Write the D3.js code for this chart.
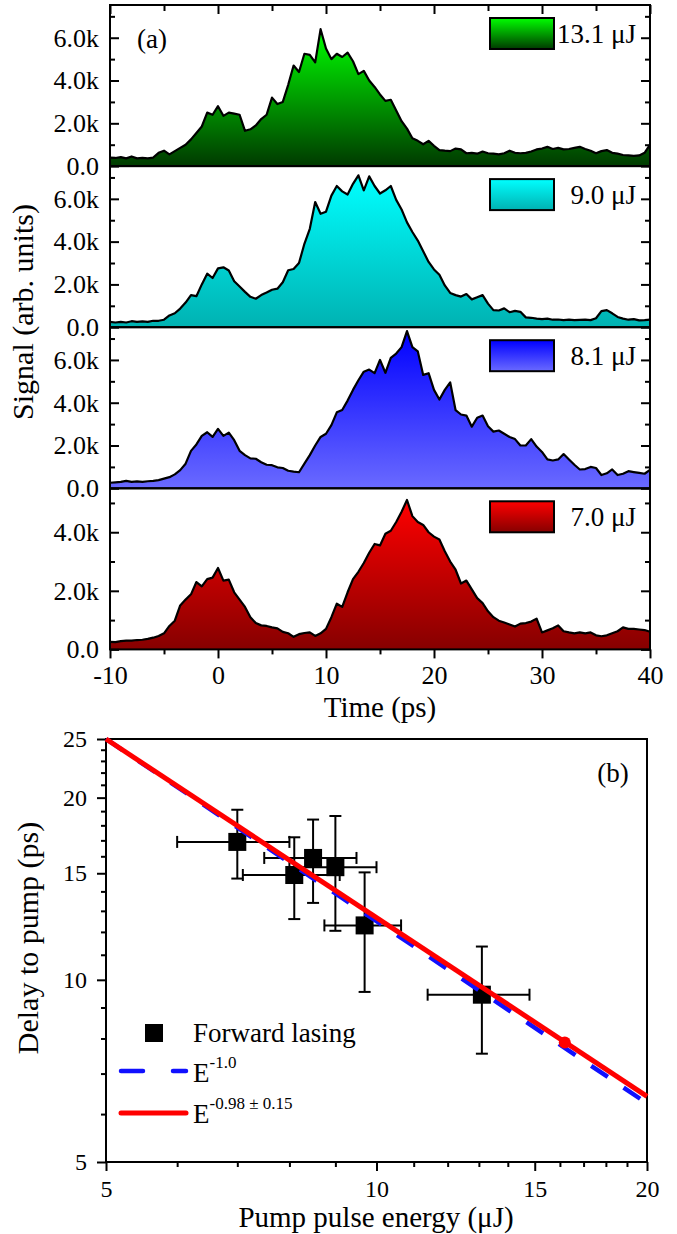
<!DOCTYPE html>
<html>
<head>
<meta charset="utf-8">
<script src="https://cdn.jsdelivr.net/npm/d3@7"></script>
<style>
  body { margin: 0; background: #fff; }
  svg { display: block; font-family: "Liberation Serif", "Times New Roman", serif; }
</style>
</head>
<body>
<svg id="chart" width="677" height="1234"></svg>
<script>
// ---- panel (a): signal traces, kilo counts, sampled every 0.5 ps from -10 to 40 ps
var times = d3.range(-10, 40.25, 0.5);

var sig131 = [
  0.40,0.38,0.42,0.36,0.45,0.36,0.38,0.36,0.40,0.62,
  0.72,0.55,0.70,0.85,1.00,1.25,1.55,1.85,2.50,2.40,
  2.80,2.35,2.50,2.45,2.40,1.65,1.72,1.90,2.20,2.40,
  3.20,2.90,3.00,3.80,4.70,4.40,5.25,5.20,4.85,6.40,
  5.50,5.00,5.25,5.10,5.30,4.90,4.30,4.45,4.00,3.70,
  3.35,3.05,3.10,2.60,2.10,1.75,1.30,1.18,1.02,1.18,
  0.95,0.75,0.72,0.70,0.82,0.78,0.60,0.62,0.58,0.68,
  0.60,0.58,0.55,0.60,0.72,0.62,0.60,0.62,0.68,0.78,
  0.82,0.90,0.80,0.85,0.78,0.80,0.85,0.90,0.80,0.72,
  0.60,0.70,0.75,0.62,0.58,0.52,0.50,0.48,0.50,0.62,
  1.00];
var sig90 = [
  0.25,0.22,0.25,0.22,0.28,0.25,0.27,0.25,0.30,0.30,
  0.35,0.55,0.65,0.87,1.15,1.50,1.45,2.00,2.50,2.30,
  2.75,2.80,2.65,2.15,1.90,1.65,1.42,1.33,1.50,1.62,
  1.75,1.80,2.10,2.66,2.72,3.00,3.90,4.60,5.85,5.30,
  5.40,6.15,6.60,6.35,6.20,6.70,7.10,6.40,7.05,6.60,
  6.25,6.40,6.60,5.95,5.50,4.90,4.45,4.05,3.55,3.05,
  2.70,2.45,1.95,1.60,1.50,1.43,1.55,1.30,1.40,1.50,
  1.10,0.80,0.78,0.88,0.70,0.76,0.72,0.46,0.44,0.40,
  0.38,0.40,0.35,0.36,0.33,0.35,0.33,0.34,0.35,0.33,
  0.42,0.75,0.80,0.65,0.48,0.40,0.35,0.38,0.32,0.33,
  0.35];
var sig81 = [
  0.26,0.28,0.30,0.35,0.30,0.32,0.30,0.33,0.35,0.38,
  0.45,0.52,0.65,0.85,1.15,1.75,2.05,2.45,2.62,2.40,
  2.78,2.45,2.60,2.25,1.75,1.55,1.40,1.38,1.22,1.10,
  1.08,0.98,0.95,0.82,0.78,0.75,1.15,1.55,2.00,2.40,
  2.55,2.95,3.55,3.66,4.10,4.60,5.05,5.45,5.55,5.38,
  6.00,5.40,6.10,6.30,6.60,7.35,6.60,6.40,5.30,5.38,
  4.60,4.15,4.60,4.95,3.65,3.45,3.40,2.88,3.30,3.40,
  2.90,2.65,2.70,2.55,2.40,2.30,2.00,2.00,2.30,1.95,
  1.70,1.35,1.30,1.35,1.60,1.35,1.10,0.88,0.90,1.00,
  0.95,0.62,0.70,0.88,0.62,0.68,0.80,0.76,0.72,0.68,
  0.86];
var sig70 = [
  0.26,0.25,0.28,0.30,0.30,0.32,0.33,0.36,0.40,0.46,
  0.55,0.80,0.98,1.50,1.70,1.88,2.30,2.15,2.40,2.45,
  2.78,2.35,2.38,1.95,1.70,1.45,1.10,0.90,0.82,0.80,
  0.75,0.72,0.60,0.55,0.43,0.52,0.56,0.58,0.46,0.55,
  0.70,1.10,1.56,1.45,1.95,2.40,2.65,2.95,3.30,3.60,
  3.55,3.95,4.05,4.35,4.70,5.10,4.55,4.35,4.25,4.00,
  3.85,3.75,3.35,3.00,2.72,2.25,2.35,2.05,1.75,1.58,
  1.30,1.10,0.98,0.92,0.85,0.78,0.88,0.90,0.95,1.05,
  0.58,0.65,0.72,0.82,0.62,0.58,0.55,0.58,0.55,0.58,
  0.48,0.45,0.48,0.55,0.62,0.75,0.70,0.70,0.68,0.66,
  0.60];

var traces = [sig131, sig90, sig81, sig70];
var traceLabels = ['13.1 \u03bcJ', '9.0 \u03bcJ', '8.1 \u03bcJ', '7.0 \u03bcJ'];
var traceMax = [7.53, 7.53, 7.53, 5.5];
var yMajor = [0, 2, 4, 6];
var yMinor = [1, 3, 5, 7];
var tMajor = [-10, 0, 10, 20, 30, 40];
var tMinor = [-5, 5, 15, 25, 35];

// ---- panel (b): delay vs pump energy
var energy   = [7.0, 8.1, 8.5, 9.0, 9.7, 13.1];
var energyErr = [1.0, 1.0, 1.0, 1.0, 0.95, 1.7];
var delay    = [16.9, 14.9, 15.9, 15.35, 12.3, 9.45];
var delayErr = [2.2, 2.3, 2.5, 3.3, 2.75, 1.9];
var fitE     = [5, 20];
var fitRed   = [25, 6.42];   // E^-0.98
var fitBlue  = [25, 6.25];   // E^-1.0
var fitDot   = [16.2, 7.88];
var eMajor = [5, 10, 15, 20];
var eMinor = [6, 7, 8, 9, 11, 12, 13, 14, 16, 17, 18, 19];
var dMajor = [5, 10, 15, 20, 25];
var dMinor = [6, 7, 8, 9, 11, 12, 13, 14, 16, 17, 18, 19, 21, 22, 23, 24];

var svg = d3.select('#chart');
var defs = svg.append('defs');
var gradColors = [['#00ff00', '#003a00'], ['#00ffff', '#00b2b2'], ['#0000ff', '#6a6aff'], ['#ff0000', '#860000']];

gradColors.forEach(function(c, i) {
  var lg = defs.append('linearGradient').attr('id', 'grad' + i)
    .attr('x1', 0).attr('y1', 0).attr('x2', 0).attr('y2', 1);
  lg.append('stop').attr('offset', '0%').attr('stop-color', c[0]);
  lg.append('stop').attr('offset', '100%').attr('stop-color', c[1]);
});

function styleAxis(g, size) {
  g.attr('font-family', null).attr('font-size', size);
  g.select('.domain').remove();
  g.selectAll('.tick line').attr('stroke', '#000').attr('stroke-width', 2);
  g.selectAll('.tick text').attr('fill', '#000');
}
// plain hyphen for negatives, as in the original figure
var plain = function(v) { return String(v); };

var x = d3.scaleLinear().domain([-10, 40]).range([110, 650]);
var panelH = 161.1;

traces.forEach(function(vals, i) {
  var top = 5 + i * panelH, bottom = top + panelH;
  var y = d3.scaleLinear().domain([0, traceMax[i]]).range([bottom, top]);
  var g = svg.append('g');

  g.append('path').datum(vals)
    .attr('d', d3.area().x(function(d, j) { return x(times[j]); }).y0(y(0)).y1(function(d) { return y(d); }))
    .attr('fill', 'url(#grad' + i + ')');
  g.append('path').datum(vals)
    .attr('d', d3.line().x(function(d, j) { return x(times[j]); }).y(function(d) { return y(d); }))
    .attr('fill', 'none').attr('stroke', '#000').attr('stroke-width', 2.2).attr('stroke-linejoin', 'round');

  var maj = yMajor.filter(function(v) { return v <= traceMax[i]; });
  var mnr = yMinor.filter(function(v) { return v <= traceMax[i]; });

  g.append('g').attr('transform', 'translate(110,0)')
    .call(d3.axisLeft(y).tickValues(maj).tickSize(-9).tickPadding(11)
      .tickFormat(function(v) { return v === 0 ? '0.0' : v + '.0k'; }))
    .call(styleAxis, 26);
  g.append('g').attr('transform', 'translate(110,0)')
    .call(d3.axisLeft(y).tickValues(mnr).tickSize(-5).tickFormat(''))
    .call(styleAxis, 26);
  g.append('g').attr('transform', 'translate(650,0)')
    .call(d3.axisRight(y).tickValues(maj).tickSize(-9).tickFormat(''))
    .call(styleAxis, 26);
  g.append('g').attr('transform', 'translate(650,0)')
    .call(d3.axisRight(y).tickValues(mnr).tickSize(-5).tickFormat(''))
    .call(styleAxis, 26);

  if (i === 0) {
    g.append('g').attr('transform', 'translate(0,' + top + ')')
      .call(d3.axisTop(x).tickValues(tMajor).tickSize(-9).tickFormat(''))
      .call(styleAxis, 26);
    g.append('g').attr('transform', 'translate(0,' + top + ')')
      .call(d3.axisTop(x).tickValues(tMinor).tickSize(-6).tickFormat(''))
      .call(styleAxis, 26);
    g.append('text').attr('x', 137).attr('y', 48).attr('font-size', 27).text('(a)');
  }
  if (i === traces.length - 1) {
    g.append('g').attr('transform', 'translate(0,' + bottom + ')')
      .call(d3.axisBottom(x).tickValues(tMajor).tickSize(9).tickPadding(7).tickFormat(plain))
      .call(styleAxis, 26);
    g.append('g').attr('transform', 'translate(0,' + bottom + ')')
      .call(d3.axisBottom(x).tickValues(tMinor).tickSize(5).tickFormat(''))
      .call(styleAxis, 26);
  }

  g.append('rect').attr('x', 110).attr('y', top).attr('width', 540).attr('height', panelH)
    .attr('fill', 'none').attr('stroke', '#000').attr('stroke-width', 2);

  // legend
  g.append('rect').attr('x', 490).attr('y', top + 13).attr('width', 64).attr('height', 31)
    .attr('fill', 'url(#grad' + i + ')').attr('stroke', '#000').attr('stroke-width', 2);
  g.append('text').attr('x', 636).attr('y', top + 38).attr('text-anchor', 'end')
    .attr('font-size', 27).text(traceLabels[i]);
});

svg.append('text').attr('x', 380).attr('y', 717).attr('text-anchor', 'middle')
  .attr('font-size', 29).text('Time (ps)');
svg.append('text').attr('transform', 'translate(33,312) rotate(-90)').attr('text-anchor', 'middle')
  .attr('font-size', 30).text('Signal (arb. units)');

// ---- panel (b)
var ex = d3.scaleLog().domain([5, 20]).range([106, 647]);
var dy = d3.scaleLog().domain([5, 25]).range([1162, 739]);
var gb = svg.append('g');

gb.append('g').attr('transform', 'translate(0,1162)')
  .call(d3.axisBottom(ex).tickValues(eMajor).tickSize(9).tickPadding(9).tickFormat(plain))
  .call(styleAxis, 24);
gb.append('g').attr('transform', 'translate(0,1162)')
  .call(d3.axisBottom(ex).tickValues(eMinor).tickSize(5).tickFormat(''))
  .call(styleAxis, 24);
gb.append('g').attr('transform', 'translate(106,0)')
  .call(d3.axisLeft(dy).tickValues(dMajor).tickSize(9).tickPadding(10).tickFormat(plain))
  .call(styleAxis, 24);
gb.append('g').attr('transform', 'translate(106,0)')
  .call(d3.axisLeft(dy).tickValues(dMinor).tickSize(5).tickFormat(''))
  .call(styleAxis, 24);

gb.append('rect').attr('x', 106).attr('y', 739).attr('width', 541).attr('height', 423)
  .attr('fill', 'none').attr('stroke', '#000').attr('stroke-width', 2);

var pts = energy.map(function(e, i) {
  return { e: e, d: delay[i], ee: energyErr[i], de: delayErr[i] };
});
var eb = gb.append('g').attr('stroke', '#000').attr('stroke-width', 2);
pts.forEach(function(p) {
  var cx = ex(p.e), cy = dy(p.d);
  var x0 = ex(p.e - p.ee), x1 = ex(p.e + p.ee);
  var y0 = dy(p.d - p.de), y1 = dy(p.d + p.de);
  eb.append('line').attr('x1', x0).attr('x2', x1).attr('y1', cy).attr('y2', cy);
  eb.append('line').attr('x1', x0).attr('x2', x0).attr('y1', cy - 6).attr('y2', cy + 6);
  eb.append('line').attr('x1', x1).attr('x2', x1).attr('y1', cy - 6).attr('y2', cy + 6);
  eb.append('line').attr('x1', cx).attr('x2', cx).attr('y1', y0).attr('y2', y1);
  eb.append('line').attr('x1', cx - 6).attr('x2', cx + 6).attr('y1', y0).attr('y2', y0);
  eb.append('line').attr('x1', cx - 6).attr('x2', cx + 6).attr('y1', y1).attr('y2', y1);
});
gb.selectAll('rect.pt').data(pts).enter().append('rect').attr('class', 'pt')
  .attr('x', function(p) { return ex(p.e) - 9; })
  .attr('y', function(p) { return dy(p.d) - 9; })
  .attr('width', 18).attr('height', 18).attr('fill', '#000');

var fitLine = d3.line().x(function(d, i) { return ex(fitE[i]); }).y(function(d) { return dy(d); });
gb.append('path').datum(fitBlue).attr('d', fitLine)
  .attr('fill', 'none').attr('stroke', '#1010ff').attr('stroke-width', 4.5)
  .attr('stroke-dasharray', '20,19');
gb.append('path').datum(fitRed).attr('d', fitLine)
  .attr('fill', 'none').attr('stroke', '#ff0000').attr('stroke-width', 5);
gb.append('circle').attr('cx', ex(fitDot[0])).attr('cy', dy(fitDot[1])).attr('r', 6).attr('fill', '#ff0000');

gb.append('text').attr('x', 613).attr('y', 782).attr('text-anchor', 'middle')
  .attr('font-size', 27).text('(b)');

// legend (b)
gb.append('rect').attr('x', 145).attr('y', 1024).attr('width', 18).attr('height', 18).attr('fill', '#000');
gb.append('text').attr('x', 193).attr('y', 1042).attr('font-size', 27).text('Forward lasing');
gb.append('line').attr('x1', 121).attr('x2', 186).attr('y1', 1071).attr('y2', 1071)
  .attr('stroke', '#1010ff').attr('stroke-width', 4.5).attr('stroke-linecap', 'round')
  .attr('stroke-dasharray', '22,30');
var t1 = gb.append('text').attr('x', 193).attr('y', 1082).attr('font-size', 27).text('E');
t1.append('tspan').attr('dy', -14).attr('font-size', 17).text('-1.0');
gb.append('line').attr('x1', 121).attr('x2', 186).attr('y1', 1113).attr('y2', 1113)
  .attr('stroke', '#ff0000').attr('stroke-width', 5).attr('stroke-linecap', 'round');
var t2 = gb.append('text').attr('x', 193).attr('y', 1123).attr('font-size', 27).text('E');
t2.append('tspan').attr('dy', -14).attr('font-size', 17).text('-0.98 \u00b1 0.15');

svg.append('text').attr('x', 376).attr('y', 1227).attr('text-anchor', 'middle')
  .attr('font-size', 29).text('Pump pulse energy (\u03bcJ)');
svg.append('text').attr('transform', 'translate(38,938) rotate(-90)').attr('text-anchor', 'middle')
  .attr('font-size', 30).text('Delay to pump (ps)');
</script>
</body>
</html>
